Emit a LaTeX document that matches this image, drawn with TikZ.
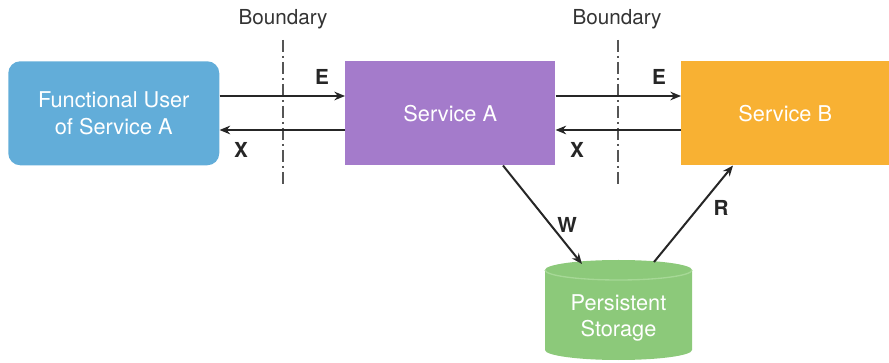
\documentclass[tikz,border=0pt]{standalone}
\usepackage{fontspec}
\setmainfont{TeX Gyre Heros}
\usetikzlibrary{arrows.meta}
\definecolor{userblue}{HTML}{62ADD9}
\definecolor{svcpurple}{HTML}{A47BCB}
\definecolor{svcorange}{HTML}{F8B133}
\definecolor{storegreen}{HTML}{8CC97A}
\definecolor{storeedge}{HTML}{A6D896}
\definecolor{bndgray}{HTML}{555555}
\tikzset{
  box/.style={anchor=north west, inner sep=0pt, minimum width=#1, minimum height=78pt,
    text=white, align=center, font=\fontsize{16.3}{20}\selectfont},
  flow/.style={line width=1.5pt, draw=black!85, -{Stealth[length=8pt,width=6.5pt]}},
  flowlabel/.style={font=\fontsize{15.5}{18}\selectfont\bfseries, text=black!85},
  bndline/.style={draw=bndgray, line width=1.1pt, dash pattern=on 9pt off 3pt on 1.5pt off 3pt},
  bndlabel/.style={font=\fontsize{15.5}{18}\selectfont, text=black!80}
}
\begin{document}
\begin{tikzpicture}[x=0.75pt, y=-0.75pt]
\useasboundingbox (0,0) rectangle (889,363);

% components
\node[box=158.25pt, fill=userblue, rounded corners=9pt] (user) at (8,61) {Functional User\\of Service A};
\node[box=157.5pt, fill=svcpurple] (sa) at (345,61) {Service A};
\node[box=156pt, fill=svcorange] (sb) at (681,61) {Service B};

% persistent storage cylinder (y axis points down, so angle 90 is the lower side)
\fill[storegreen] (545,270) -- (545,350) arc[start angle=180, end angle=0, x radius=73.5, y radius=10]
  -- (692,270) arc[start angle=0, end angle=-180, x radius=73.5, y radius=10] -- cycle;
\draw[storeedge, line width=1pt] (545,270) arc[start angle=180, end angle=0, x radius=73.5, y radius=10];
\node[text=white, align=center, font=\fontsize{16.3}{20}\selectfont, inner sep=0pt] (ps) at (618.5,318) {Persistent\\Storage};
\coordinate (wend) at (582,264);
\coordinate (rstart) at (654,262);

% boundaries
\coordinate (b1top) at (283,40);
\coordinate (b1bot) at (283,188);
\coordinate (b2top) at (618,40);
\coordinate (b2bot) at (618,188);
\draw[bndline] (b1top) -- (b1bot);
\draw[bndline] (b2top) -- (b2bot);
\node[bndlabel] (b1) at (283,19) {Boundary};
\node[bndlabel] (b2) at (617,19) {Boundary};

% data movements
\draw[flow] ([yshift=-26.25pt]user.north east) -- ([yshift=-26.25pt]sa.north west);
\draw[flow] ([yshift=-51.75pt]sa.north west) -- ([yshift=-51.75pt]user.north east);
\draw[flow] ([yshift=-26.25pt]sa.north east) -- ([yshift=-26.25pt]sb.north west);
\draw[flow] ([yshift=-51.75pt]sb.north west) -- ([yshift=-51.75pt]sa.north east);
\draw[flow] ([xshift=118.5pt]sa.south west) -- (wend);
\draw[flow] (rstart) -- ([xshift=39pt]sb.south west);

\node[flowlabel] (e1) at (322,77) {E};
\node[flowlabel] (x1) at (241,150) {X};
\node[flowlabel] (e2) at (659,77) {E};
\node[flowlabel] (x2) at (577,150) {X};
\node[flowlabel] (w) at (567,225) {W};
\node[flowlabel] (r) at (721,208) {R};
\end{tikzpicture}
\end{document}
